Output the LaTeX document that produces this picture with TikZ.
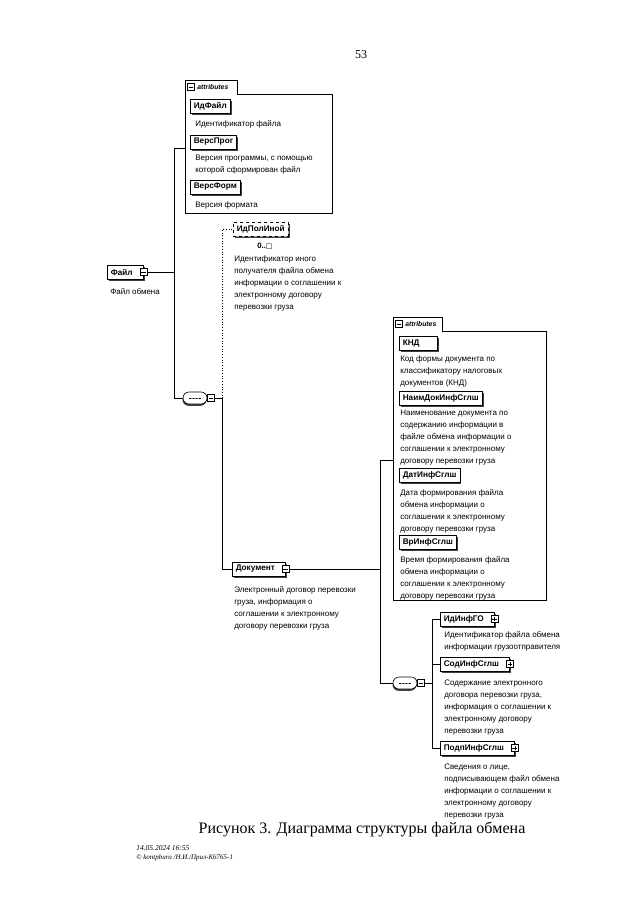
\documentclass[tikz,border=0pt]{standalone}
\usepackage{fontspec}
\setmainfont{Liberation Serif}
\newfontfamily\ar{Liberation Sans}
\newfontfamily\dv{DejaVu Sans}
\usetikzlibrary{shapes.misc,shadows}
\begin{document}
\begin{tikzpicture}[x=1pt,y=-1pt,
  line width=0.6pt,
  desc/.style={anchor=north west, inner sep=0pt, align=left, font=\ar\fontsize{8}{12}\selectfont},
  shad/.style={drop shadow={shadow xshift=1.5pt, shadow yshift=-1.5pt, fill=black!75, opacity=1}},
  elem/.style={draw, fill=white, anchor=west, inner xsep=3.5pt, inner ysep=0pt, minimum height=14pt, font=\ar\bfseries\fontsize{8.2}{10}\selectfont, shad},
  optelem/.style={elem, dashed, drop shadow={shadow xshift=1.2pt, shadow yshift=-1.2pt, fill=black!35, opacity=1}},
  icon/.style={draw, fill=white, minimum size=7pt, inner sep=0pt, line width=0.5pt},
  minusicon/.style={icon, path picture={\draw[line width=0.5pt] ([xshift=-2.3pt]path picture bounding box.center) -- ([xshift=2.3pt]path picture bounding box.center);}},
  plusicon/.style={icon, path picture={\draw[line width=0.5pt] ([xshift=-2.3pt]path picture bounding box.center) -- ([xshift=2.3pt]path picture bounding box.center) ([yshift=-2.3pt]path picture bounding box.center) -- ([yshift=2.3pt]path picture bounding box.center);}},
  seqoval/.style={draw, fill=white, rounded rectangle, minimum width=24pt, minimum height=12pt, inner sep=0pt,
    drop shadow={shadow xshift=-0.5pt, shadow yshift=-1.8pt, fill=black!75, opacity=1},
    path picture={\draw[line width=0.5pt] ([xshift=-6pt]path picture bounding box.center) -- ([xshift=6pt]path picture bounding box.center);
      \foreach \d in {-3,0,3} \fill ([xshift=\d pt]path picture bounding box.center) circle (0.9pt);}},
  tabtxt/.style={anchor=west, inner sep=0pt, font=\ar\bfseries\itshape\fontsize{6.8}{8}\selectfont},
]
\useasboundingbox (0,0) rectangle (640,905);
\fill[white] (0,0) rectangle (640,905);

% page number
\node[font=\fontsize{12}{14}\selectfont] (pg) at (361,55) {53};

% ---------- top attributes group ----------
\draw (185,213) -- (185,80) -- (237,80) -- (237,94) -- (332,94) -- (332,213) -- cycle;
\node[minusicon] (ta1) at (191,87) {};
\node[tabtxt] (tt1) at (197,87) {attributes};
\coordinate (ab1w) at (185,148);

\node[elem] (idf) at (190,106) {ИдФайл};
\node[desc] (didf) at (195,120.5) {Идентификатор файла};
\node[elem] (vp) at (190,142) {ВерсПрог};
\node[desc] (dvp) at (195,155) {Версия программы, с помощью\\которой сформирован файл};
\node[elem] (vf) at (190,187) {ВерсФорм};
\node[desc] (dvf) at (195,201) {Версия формата};

% ---------- root ----------
\node[elem] (file) at (107,272) {Файл\kern7pt};
\node[minusicon] (fileI) at (file.east) {};
\node[desc] (dfile) at (110,288) {Файл обмена};

% trunk 1
\coordinate (t1a) at (174,148);
\coordinate (j1) at (174,272);
\coordinate (t1b) at (174,398);

% sequence 1
\node[seqoval] (s1) at (195,398) {};
\node[minusicon] (s1m) at ([xshift=3.5pt]s1.east) {};
\coordinate (j2) at (222,398);
\coordinate (j2top) at (222,229);

% optional element
\node[optelem] (idpol) at (233,229) {ИдПолИной};
\node[anchor=west, inner sep=0pt, font=\ar\bfseries\fontsize{7.8}{9}\selectfont] (occ) at (257,246) {0..{\dv\fontsize{7}{7}\selectfont □}};
\node[desc] (didpol) at (234,255) {Идентификатор иного\\получателя файла обмена\\информации о соглашении к\\электронному договору\\перевозки груза};

% Документ
\node[elem] (doc) at (232,569) {Документ\kern7pt};
\node[minusicon] (docI) at (doc.east) {};
\node[desc] (ddoc) at (234,586) {Электронный договор перевозки\\груза, информация о\\соглашении к электронному\\договору перевозки груза};
\coordinate (j3) at (380,569);
\coordinate (t3a) at (380,460);
\coordinate (t3b) at (380,683);

% ---------- lower attributes group ----------
\draw (393,600) -- (393,317) -- (442,317) -- (442,331) -- (546,331) -- (546,600) -- cycle;
\node[minusicon] (ta2) at (399,324) {};
\node[tabtxt] (tt2) at (405,324) {attributes};
\coordinate (ab2w) at (393,460);

\node[elem] (knd) at (399,343) {КНД\kern14pt};
\node[desc] (dknd) at (400,355) {Код формы документа по\\классификатору налоговых\\документов (КНД)};
\node[elem] (naim) at (399,398) {НаимДокИнфСглш};
\node[desc] (dnaim) at (400,410) {Наименование документа по\\содержанию информации в\\файле обмена информации о\\соглашении к электронному\\договору перевозки груза};
\node[elem] (dat) at (399,475) {ДатИнфСглш};
\node[desc] (ddat) at (400,489) {Дата формирования файла\\обмена информации о\\соглашении к электронному\\договору перевозки груза};
\node[elem] (vr) at (399,542) {ВрИнфСглш};
\node[desc] (dvr) at (400,556) {Время формирования файла\\обмена информации о\\соглашении к электронному\\договору перевозки груза};

% sequence 2
\node[seqoval] (s2) at (405,683) {};
\node[minusicon] (s2m) at ([xshift=3.5pt]s2.east) {};
\coordinate (j4) at (432,683);

% children of Документ
\node[elem] (idgo) at (440,619) {ИдИнфГО\kern7pt};
\node[plusicon] (idgoI) at (idgo.east) {};
\node[desc] (didgo) at (444,631) {Идентификатор файла обмена\\информации грузоотправителя};
\node[elem] (sod) at (440,664) {СодИнфСглш\kern7pt};
\node[plusicon] (sodI) at (sod.east) {};
\node[desc] (dsod) at (444,680) {Содержание электронного\\договора перевозки груза,\\информация о соглашении к\\электронному договору\\перевозки груза};
\node[elem] (pod) at (440,748) {ПодпИнфСглш\kern7pt};
\node[plusicon] (podI) at (pod.east) {};
\node[desc] (dpod) at (444,764) {Сведения о лице,\\подписывающем файл обмена\\информации о соглашении к\\электронному договору\\перевозки груза};

% ---------- connectors ----------
\draw (ab1w) -- (t1a) -- (t1b) -- (s1.west);
\draw (fileI.east) -- (j1);
\draw (s1m.east) -- (j2);
\draw[dotted, line width=0.7pt] (j2) -- (j2top) -- (idpol.west);
\draw (j2) |- (doc.west);
\draw (docI.east) -- (j3);
\draw (ab2w) -- (t3a) -- (t3b) -- (s2.west);
\draw (s2m.east) -- (j4);
\draw (idgo.west) -| (j4);
\draw (pod.west) -| (j4);
\draw (sod.west) -- (sod.west -| j4);

% ---------- caption and footer ----------
\node[font=\fontsize{16}{18}\selectfont] (cap) at (362,829) {Рисунок 3. Диаграмма структуры файла обмена};
\node[anchor=west, inner sep=0pt, font=\itshape\fontsize{7.5}{9}\selectfont] (ft1) at (136,848) {14.05.2024 16:55};
\node[anchor=west, inner sep=0pt, font=\itshape\fontsize{7}{9}\selectfont] (ft2) at (136,858) {© kontpburo /Н.И./Прил-К6765-1};
\end{tikzpicture}
\end{document}
